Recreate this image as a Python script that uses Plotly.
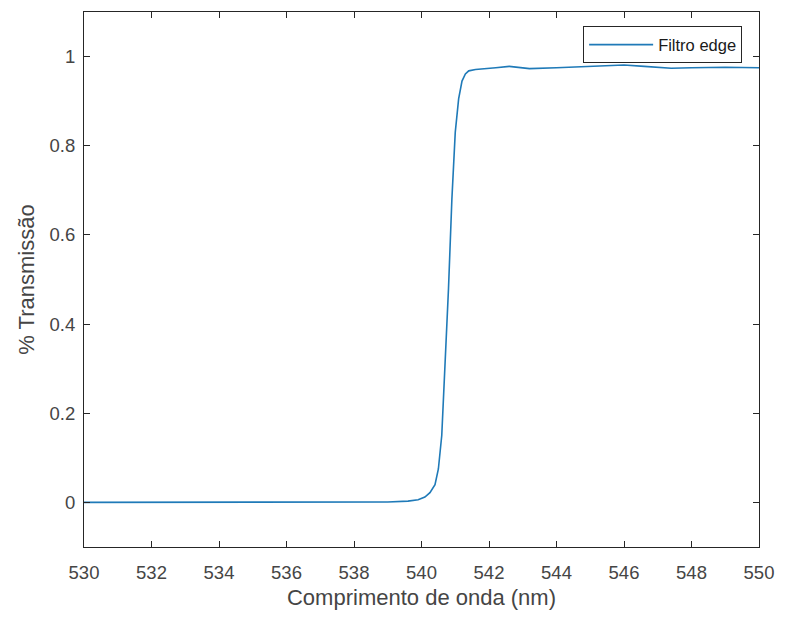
import plotly.graph_objects as go

# Edge filter transmission spectrum
wavelength_nm = [530, 532, 534, 536, 538, 539, 539.6, 539.9, 540.1, 540.25, 540.4,
                 540.5, 540.6, 540.7, 540.8, 540.9, 541.0, 541.1, 541.2, 541.3,
                 541.4, 541.6, 541.8, 542.2, 542.6, 543.2, 544.0, 545.0, 546.0,
                 546.6, 547.4, 548.0, 549.0, 550.0]
transmission = [0.0, 0.0, 0.0, 0.0, 0.0, 0.001, 0.003, 0.006, 0.012, 0.022, 0.04,
                0.075, 0.15, 0.30, 0.48, 0.68, 0.83, 0.905, 0.945, 0.961,
                0.968, 0.971, 0.972, 0.975, 0.978, 0.973, 0.975, 0.978, 0.981,
                0.978, 0.974, 0.975, 0.976, 0.975]

x_ticks = [530, 532, 534, 536, 538, 540, 542, 544, 546, 548, 550]
y_ticks = [0, 0.2, 0.4, 0.6, 0.8, 1]

font_family = "Liberation Sans, Arial, sans-serif"
text_color = "#454545"
axis_color = "#262626"

fig = go.Figure()
fig.add_trace(go.Scatter(
    x=wavelength_nm, y=transmission, mode="lines", name="Filtro edge",
    line=dict(color="#1f7ab8", width=1.6),
))

axis_common = dict(
    showgrid=False, zeroline=False, showline=True, linecolor=axis_color,
    linewidth=1, mirror="ticks", ticks="inside", ticklen=6, tickwidth=1,
    tickcolor=axis_color, tickfont=dict(family=font_family, size=18.5, color=text_color),
)

fig.update_layout(
    width=785, height=618,
    margin=dict(l=84, r=21, t=11, b=71),
    paper_bgcolor="white", plot_bgcolor="white",
    font=dict(family=font_family, size=18.5, color=text_color),
    xaxis=dict(range=[530, 550], tickvals=x_ticks, ticklabelstandoff=9,
               title=dict(text="Comprimento de onda (nm)", standoff=7,
                          font=dict(size=22, color=text_color)),
               **axis_common),
    yaxis=dict(range=[-0.1, 1.1], tickvals=y_ticks, ticklabelstandoff=4,
               title=dict(text="% Transmissão", standoff=8,
                          font=dict(size=22, color=text_color)),
               **axis_common),
    showlegend=True,
    legend=dict(x=0.975, y=0.973, xanchor="right", yanchor="top",
                bgcolor="white", bordercolor=axis_color, borderwidth=1,
                font=dict(family=font_family, size=16.5, color="#1a1a1a"),
                itemwidth=64, tracegroupgap=0),
)

fig.write_html("out.html")
